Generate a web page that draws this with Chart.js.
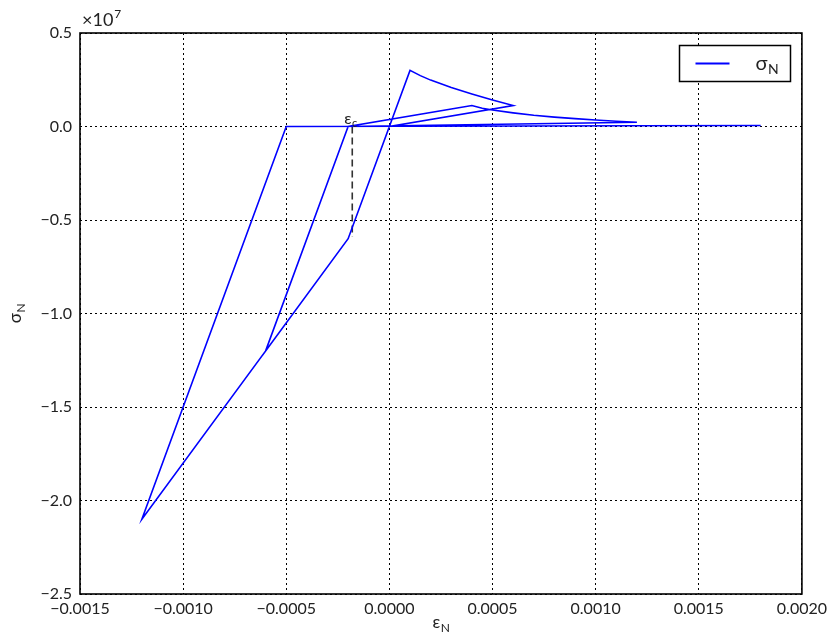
<!DOCTYPE html>
<html>
<head>
<meta charset="utf-8">
<script src="https://cdn.jsdelivr.net/npm/chart.js@4.4.0/dist/chart.umd.min.js"></script>
<style>
  html, body { margin: 0; padding: 0; background: #fff; }
  canvas { display: block; }
</style>
</head>
<body>
<canvas id="chart" width="832" height="636"></canvas>
<script>
// Normal strain / normal stress path of the cyclic loading history
const strainN = [
  0, 0.0001, 0.00015, 0.0002, 0.0003, 0.0004, 0.0005, 0.0006,
  0, -0.0002, -0.0006, -0.0002,
  0.0004, 0.00045, 0.0005, 0.0006, 0.0007, 0.0008, 0.0009, 0.0010, 0.0011, 0.0012,
  -0.0002, -0.0006, -0.0012, -0.0005, 0.0018
];
const stressN = [
  0, 3.0e6, 2.72e6, 2.48e6, 2.08e6, 1.74e6, 1.42e6, 1.12e6,
  0, -6.0e6, -1.2e7, 0,
  1.12e6, 0.98e6, 0.88e6, 0.73e6, 0.6e6, 0.5e6, 0.42e6, 0.35e6, 0.28e6, 0.23e6,
  0, -1.2e7, -2.1e7, 0, 0.05e6
];

// Compressive threshold marker
const epsC = [-0.00018, -0.00018];
const sigC = [0, -5.9e6];

// Axis ticks
const xTicks = [-0.0015, -0.0010, -0.0005, 0.0000, 0.0005, 0.0010, 0.0015, 0.0020];
const yTicks = [-2.5e7, -2.0e7, -1.5e7, -1.0e7, -0.5e7, 0.0, 0.5e7];
const yExponent = 7;

const FONT = 'Lato, "Open Sans", "DejaVu Sans", sans-serif';
const minus = s => s.replace('-', '\u2212');

function toPoints(xs, ys) {
  return xs.map((x, i) => ({ x: x, y: ys[i] }));
}

// Text with a subscript, e.g. sigma_N
function drawSub(ctx, main, sub, x, y, size, align) {
  ctx.font = size + 'px ' + FONT;
  const w1 = ctx.measureText(main).width;
  ctx.font = Math.round(size * 0.68) + 'px ' + FONT;
  const w2 = ctx.measureText(sub).width;
  let x0 = x;
  if (align === 'center') x0 = x - (w1 + w2) / 2;
  ctx.textAlign = 'left';
  ctx.textBaseline = 'alphabetic';
  ctx.font = size + 'px ' + FONT;
  ctx.fillText(main, x0, y);
  ctx.font = Math.round(size * 0.68) + 'px ' + FONT;
  ctx.fillText(sub, x0 + w1 + 0.5, y + size * 0.22);
}

const decorations = {
  id: 'decorations',
  afterDraw(chart) {
    const ctx = chart.ctx;
    const a = chart.chartArea;
    const xs = chart.scales.x, ys = chart.scales.y;
    ctx.save();

    // Axes frame
    ctx.strokeStyle = '#000';
    ctx.lineWidth = 1.6;
    ctx.setLineDash([]);
    ctx.strokeRect(a.left, a.top, a.right - a.left, a.bottom - a.top);

    ctx.fillStyle = '#222';
    // Offset text for the stress axis
    ctx.font = '18px ' + FONT;
    ctx.textAlign = 'left';
    ctx.textBaseline = 'alphabetic';
    ctx.fillText('\u00d710', a.left + 2, a.top - 7);
    const w = ctx.measureText('\u00d710').width;
    ctx.font = '12px ' + FONT;
    ctx.fillText(String(yExponent), a.left + 2 + w + 1, a.top - 15);

    // Label of the threshold strain
    drawSub(ctx, '\u03b5', 'c', xs.getPixelForValue(epsC[0]) - 8, ys.getPixelForValue(0) - 3, 16, 'left');

    // Axis titles
    drawSub(ctx, '\u03b5', 'N', (a.left + a.right) / 2, 628, 17, 'center');
    ctx.save();
    ctx.translate(21, (a.top + a.bottom) / 2);
    ctx.rotate(-Math.PI / 2);
    drawSub(ctx, '\u03c3', 'N', 0, 0, 17, 'center');
    ctx.restore();

    // Legend box
    const ds = chart.data.datasets[0];
    const bx = 679.5, by = 45.5, bw = 111, bh = 36;
    ctx.fillStyle = '#fff';
    ctx.fillRect(bx, by, bw, bh);
    ctx.strokeStyle = '#000';
    ctx.lineWidth = 1.5;
    ctx.strokeRect(bx, by, bw, bh);
    ctx.strokeStyle = ds.borderColor;
    ctx.lineWidth = 2;
    ctx.beginPath();
    ctx.moveTo(bx + 16, by + 18);
    ctx.lineTo(bx + 50, by + 18);
    ctx.stroke();
    ctx.fillStyle = '#222';
    drawSub(ctx, ds.label[0], ds.label.slice(1), bx + 76, by + 24, 20, 'left');

    ctx.restore();
  }
};

new Chart(document.getElementById('chart'), {
  type: 'scatter',
  data: {
    datasets: [
      {
        label: '\u03c3N',
        data: toPoints(strainN, stressN),
        showLine: true,
        borderColor: '#0000ff',
        borderWidth: 1.6,
        pointRadius: 0,
        tension: 0,
        fill: false
      },
      {
        label: 'epsC',
        data: toPoints(epsC, sigC),
        showLine: true,
        borderColor: '#333',
        borderWidth: 1.6,
        borderDash: [7, 4],
        pointRadius: 0,
        fill: false
      }
    ]
  },
  options: {
    responsive: false,
    animation: false,
    layout: { padding: { left: 0, right: 30, top: 33, bottom: 0 } },
    plugins: { legend: { display: false }, tooltip: { enabled: false } },
    scales: {
      x: {
        type: 'linear',
        min: -0.0015,
        max: 0.0020,
        afterBuildTicks: s => { s.ticks = xTicks.map(v => ({ value: v })); },
        afterFit: s => { s.height = 42; },
        ticks: {
          padding: 5,
          color: '#222',
          font: { family: FONT, size: 16 },
          maxRotation: 0,
          autoSkip: false,
          callback: v => minus(Number(v).toFixed(4))
        },
        grid: { color: '#000', lineWidth: 1, drawTicks: false },
        border: { display: false, dash: [2, 3] }
      },
      y: {
        type: 'linear',
        min: -2.5e7,
        max: 0.5e7,
        afterBuildTicks: s => { s.ticks = yTicks.map(v => ({ value: v })); },
        afterFit: s => { s.width = 80; },
        ticks: {
          padding: 8,
          color: '#222',
          font: { family: FONT, size: 16 },
          autoSkip: false,
          callback: v => minus((v / Math.pow(10, yExponent)).toFixed(1))
        },
        grid: { color: '#000', lineWidth: 1, drawTicks: false },
        border: { display: false, dash: [2, 3] }
      }
    }
  },
  plugins: [decorations]
});
</script>
</body>
</html>
